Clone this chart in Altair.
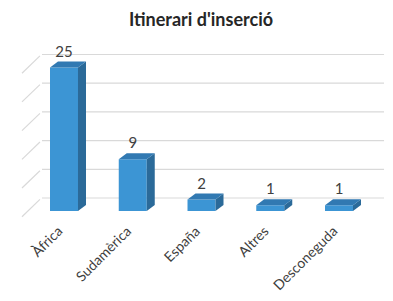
import altair as alt
import pandas as pd

categories = ["Àfrica", "Sudamèrica", "España", "Altres", "Desconeguda"]
values = [25, 9, 2, 1, 1]
grid_values = [0, 5, 10, 15, 20, 25]
title_text = "Itinerari d'inserció"

# geometry (in scale units)
HW = 0.2036      # half bar width (category units)
DX = 0.1164      # depth x
DY = 1.045       # depth y (value units)
BACK = 2.265     # back-wall offset (value units)
XDOM = [-0.8145, 4.669]
YDOM = [-14.286, 35.366]

xs = alt.Scale(domain=XDOM, zero=False, nice=False)
ys = alt.Scale(domain=YDOM, zero=False, nice=False)

FRONT = "#3c95d4"
SIDE = "#2b6a99"
TOP = "#3179b2"
TXT = "#404040"
GRID = "#d9d9d9"

idx = list(range(len(categories)))
bars = pd.DataFrame({"cat": categories, "v": values, "c": idx})
bars["x1"] = bars["c"] - HW
bars["x2"] = bars["c"] + HW
bars["zero"] = 0.0

side_rows, top_rows = [], []
for cat, v, c in zip(categories, values, idx):
    side_rows.append({"cat": cat, "x": c + HW, "y": 0.0, "y2": v})
    side_rows.append({"cat": cat, "x": c + HW + DX, "y": DY, "y2": v + DY})
    top_rows.append({"cat": cat, "y": v, "x": c - HW, "x2": c + HW})
    top_rows.append({"cat": cat, "y": v + DY, "x": c - HW + DX, "x2": c + HW + DX})
side = pd.DataFrame(side_rows)
top = pd.DataFrame(top_rows)

grid = pd.DataFrame({"g": grid_values})
grid["gy"] = grid["g"] + BACK
grid["xa"] = -0.32
grid["xb"] = 4.655

diag_rows = []
for g in grid_values:
    diag_rows.append({"g": g, "x": -0.611, "y": g - 1.0})
    diag_rows.append({"g": g, "x": -0.35, "y": g + BACK - 0.25})
diag = pd.DataFrame(diag_rows)

gridlines = alt.Chart(grid).mark_rule(color=GRID, strokeWidth=1.2).encode(
    x=alt.X("xa:Q", scale=xs, axis=None), x2="xb:Q",
    y=alt.Y("gy:Q", scale=ys, axis=None))

diags = alt.Chart(diag).mark_line(color=GRID, strokeWidth=1.2).encode(
    x=alt.X("x:Q", scale=xs, axis=None),
    y=alt.Y("y:Q", scale=ys, axis=None), detail="g:N")

front = alt.Chart(bars).mark_bar(color=FRONT).encode(
    x=alt.X("x1:Q", scale=xs, axis=None), x2="x2:Q",
    y=alt.Y("zero:Q", scale=ys, axis=None), y2="v:Q")

sidef = alt.Chart(side).mark_area(color=SIDE, orient="vertical").encode(
    x=alt.X("x:Q", scale=xs, axis=None),
    y=alt.Y("y:Q", scale=ys, axis=None), y2="y2:Q", detail="cat:N")

topf = alt.Chart(top).mark_area(color=TOP, orient="horizontal").encode(
    y=alt.Y("y:Q", scale=ys, axis=None),
    x=alt.X("x:Q", scale=xs, axis=None), x2="x2:Q", detail="cat:N")

vlabels = alt.Chart(bars).mark_text(
    font="Lato", fontSize=15, color=TXT, baseline="alphabetic", dy=-11).encode(
    x=alt.X("c:Q", scale=xs, axis=None),
    y=alt.Y("v:Q", scale=ys, axis=None), text="v:Q")

clabels = alt.Chart(bars).transform_calculate(
    lx="datum.c - 0.05", ly="-3.2").mark_text(
    font="Lato", fontSize=14, color=TXT, align="right", baseline="middle",
    angle=315).encode(
    x=alt.X("lx:Q", scale=xs, axis=None),
    y=alt.Y("ly:Q", scale=ys, axis=None), text="cat:N")

title = alt.Chart(pd.DataFrame({"t": [title_text]})).mark_text(
    font="Lato", fontSize=18, fontWeight="bold", color="#262626",
    baseline="alphabetic").encode(
    x=alt.value(193), y=alt.value(18), text="t:N")

chart = alt.layer(gridlines, diags, front, sidef, topf, vlabels, clabels, title).properties(
    width=377, height=285, padding=0,
    autosize=alt.AutoSizeParams(type="none"),
).configure_view(stroke=None)

chart.save("out.html", embed_options={"renderer": "svg", "actions": False})
